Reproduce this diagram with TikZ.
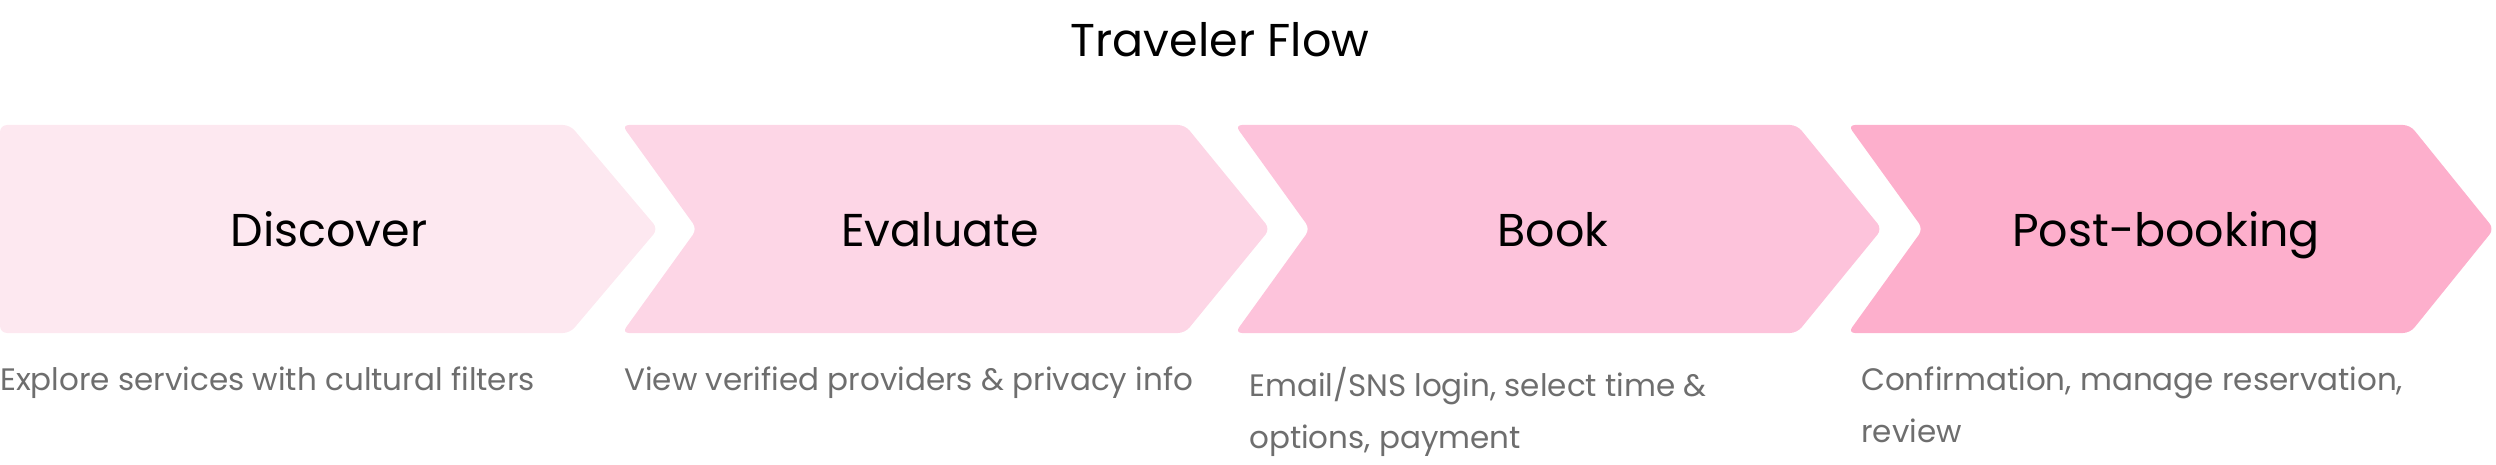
\documentclass[tikz,border=0pt]{standalone}
\usepackage{fontspec}
\setmainfont{Poppins}
\definecolor{c1}{HTML}{FDE8F0}
\definecolor{c2}{HTML}{FDD6E6}
\definecolor{c3}{HTML}{FDC3DB}
\definecolor{c4}{HTML}{FDAFCC}
\definecolor{desc}{HTML}{6E6E6E}
\tikzset{chev/.style={rounded corners=7pt},
lbl/.style={font=\fontsize{46}{52}\selectfont,text=black,anchor=base},
dsc/.style={font=\fontsize{31}{52}\selectfont,text=desc,anchor=north west,align=left,inner sep=0pt}}
\begin{document}
\begin{tikzpicture}[x=1pt,y=-1pt]
\useasboundingbox (0,0) rectangle (2496,465);
\fill[c1,chev] (0,125)--(570,125)--(658,229)--(570,333)--(0,333)--cycle;
\fill[c2,chev] (622,125)--(1185,125)--(1270,229)--(1185,333)--(622,333)--(697,229)--cycle;
\fill[c3,chev] (1235,125)--(1797,125)--(1882,229)--(1797,333)--(1235,333)--(1310,229)--cycle;
\fill[c4,chev] (1848,125)--(2410,125)--(2494,229)--(2410,333)--(1848,333)--(1923,229)--cycle;
\node[font=\fontsize{46}{52}\selectfont] (title) at (1220,40) {Traveler Flow};
\node[lbl] (l1) at (329,246) {Discover};
\node[lbl] (l2) at (940,246) {Evaluate};
\node[lbl] (l3) at (1553,246) {Book};
\node[lbl] (l4) at (2166,246) {Post-booking};
\node[dsc] (d1) at (0,367) {Explore services with cultural filters};
\node[dsc] (d2) at (624,367) {View verified providers \& privacy info};
\node[dsc] (d3) at (1249,367) {Email/SNS login, select time \&\\options, payment};
\node[dsc] (d4) at (1861,367) {Confirmation, manage reservation,\\review};
\end{tikzpicture}
\end{document}
